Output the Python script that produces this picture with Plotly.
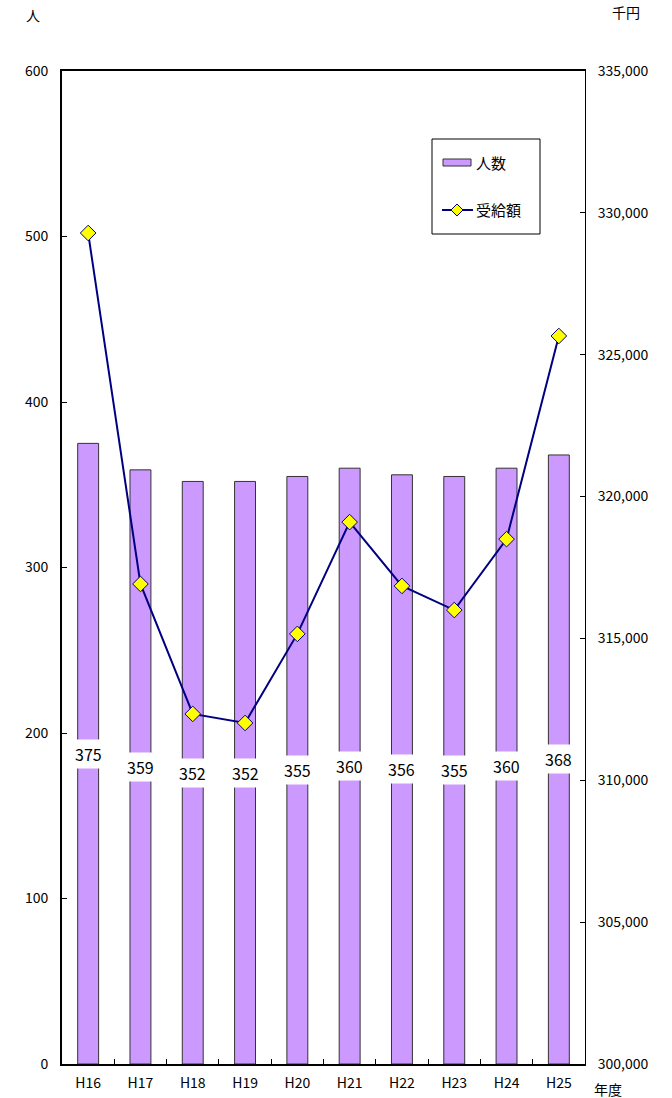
import plotly.graph_objects as go

years = ["H16", "H17", "H18", "H19", "H20", "H21", "H22", "H23", "H24", "H25"]
people = [375, 359, 352, 352, 355, 360, 356, 355, 360, 368]
amount = [329290, 316920, 312340, 312020, 315160, 319100, 316850, 316000, 318500, 325660]

FONT = "Noto Sans CJK JP"
W, H = 672, 1098
# plot area in window pixels
PL, PR, PT, PB = 62, 585, 71, 1064

fig = go.Figure()
fig.add_trace(go.Bar(
    x=years, y=people, name="人数", width=0.4,
    marker=dict(color="#CC99FF", line=dict(color="#333333", width=1)),
))
fig.add_trace(go.Scatter(
    x=years, y=amount, name="受給額", yaxis="y2", mode="lines+markers",
    line=dict(color="#000080", width=2),
    marker=dict(symbol="diamond", size=12, color="#FFFF00", line=dict(color="#000080", width=1)),
))

for x, v in zip(years, people):
    fig.add_annotation(x=x, y=v / 2, xref="x", yref="y", text=str(v), showarrow=False,
                       bgcolor="white", font=dict(family=FONT, size=16, color="black"),
                       borderpad=2)


def px(xp):
    return (xp - PL) / (PR - PL)


def py(yp):
    return (PB - yp) / (PB - PT)


def px_ann(xp, yp, text, size=14, anchor="center"):
    fig.add_annotation(x=px(xp), y=py(yp), xref="paper", yref="paper", xanchor=anchor,
                       yanchor="middle", text=text, showarrow=False,
                       font=dict(family=FONT, size=size, color="black"))


px_ann(33, 15, "人")
px_ann(626, 12, "千円")
px_ann(608, 1089, "年度")

# custom legend
fig.add_shape(type="rect", xref="paper", yref="paper", x0=px(432), x1=px(540), y0=py(139), y1=py(234),
              line=dict(color="black", width=1), fillcolor="white", layer="above")
fig.add_shape(type="rect", xref="paper", yref="paper", x0=px(443), x1=px(471), y0=py(159), y1=py(166),
              line=dict(color="#333333", width=1), fillcolor="#CC99FF", layer="above")
fig.add_shape(type="line", xref="paper", yref="paper", x0=px(442), x1=px(473), y0=py(210), y1=py(210),
              line=dict(color="#000080", width=2), layer="above")
fig.add_shape(type="path", xref="paper", yref="paper",
              path=f"M {px(451)} {py(210)} L {px(457)} {py(204)} L {px(463)} {py(210)} L {px(457)} {py(216)} Z",
              line=dict(color="#000080", width=1), fillcolor="#FFFF00", layer="above")
px_ann(474, 162, "人数", size=15, anchor="left")
px_ann(474, 210, "受給額", size=15, anchor="left")

fig.update_layout(
    width=W, height=H,
    margin=dict(l=PL, r=W - PR, t=PT, b=H - PB, autoexpand=False),
    paper_bgcolor="white", plot_bgcolor="white",
    font=dict(family=FONT, size=14, color="black"),
    showlegend=False,
    xaxis=dict(type="category", range=[-0.5, len(years) - 0.5], showline=True, linecolor="black",
               linewidth=1.5, ticks="inside", ticklen=5, tickcolor="black", tickson="boundaries",
               mirror=True, showgrid=False, tickfont=dict(size=14), ticklabelstandoff=5),
    yaxis=dict(range=[0, 600], dtick=100, showline=True, linecolor="black", linewidth=2,
               ticks="inside", ticklen=5, tickcolor="black", showgrid=False, zeroline=False,
               tickfont=dict(size=14), ticklabelstandoff=9),
    yaxis2=dict(range=[300000, 335000], dtick=5000, overlaying="y", side="right",
                showline=True, linecolor="black", linewidth=1, ticks="inside", ticklen=5,
                tickcolor="black", showgrid=False, zeroline=False, tickformat=",",
                tickfont=dict(size=14), ticklabelstandoff=9),
)

fig.write_html("out.html", config={"displayModeBar": False},
               post_script="document.body.style.margin='0';document.body.style.overflow='hidden';")
